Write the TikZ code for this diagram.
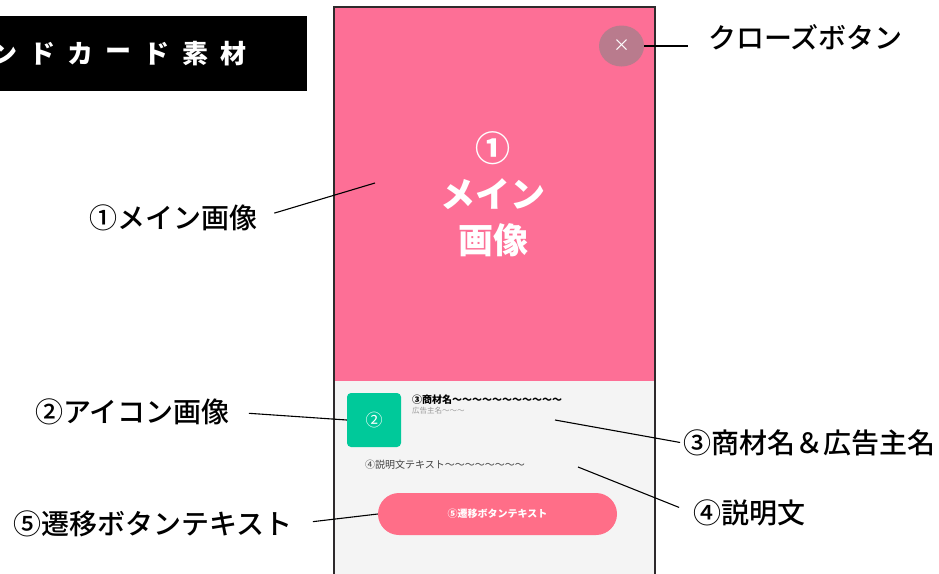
\documentclass[tikz,border=0pt]{standalone}
\usepackage{fontspec}
\setmainfont{Noto Sans CJK JP}
\newfontfamily\medfont{Noto Sans CJK JP Medium}
\usetikzlibrary{shapes.geometric}
\definecolor{imgpink}{HTML}{FD6F96}
\definecolor{closegray}{HTML}{B97B8D}
\definecolor{icongreen}{HTML}{00C99A}
\definecolor{btnpink}{HTML}{FF6E88}
\definecolor{cardgray}{HTML}{F4F4F4}
\definecolor{framegray}{HTML}{2E2A2C}
\begin{document}
\begin{tikzpicture}[x=1pt,y=-1pt,
    lbl/.style={font=\medfont\fontsize{28}{30}\selectfont,inner sep=0pt},
    lead/.style={draw=black,line width=1.1pt},
    small/.style={inner sep=0pt,anchor=west}
   ]
  \useasboundingbox (0,0) rectangle (939,573);
  \clip (0,0) rectangle (939,573);
  % title bar
  \fill[black] (0,16) rectangle (307,91);
  \foreach \ch [count=\i] in {ン,ド,カ,ー,ド,素,材}
    \node[text=white,font=\bfseries\fontsize{26}{26}\selectfont] (t\i) at ({4+38.2*(\i-1)},54) {\ch};
  % card
  \fill[imgpink] (334,7) rectangle (655,381);
  \fill[cardgray] (334,381) rectangle (655,590);
  \draw[framegray,line width=1.4pt] (334,590) -- (334,7) -- (655,7) -- (655,590);
  \node[ellipse,fill=closegray,minimum width=45pt,minimum height=41pt,inner sep=0pt,
        text=white,font=\fontsize{17}{17}\selectfont] (close) at (621.5,46) {×};
  \node[text=white,align=center,font=\bfseries\fontsize{35}{46}\selectfont] (main) at (493,194) {①\\メイン\\画像};
  \node[fill=icongreen,rounded corners=4pt,minimum size=54pt,inner sep=0pt,
        text=white,font=\fontsize{17}{17}\selectfont] (icon) at (374,420) {②};
  \node[small,font=\bfseries\fontsize{10}{10}\selectfont] (name) at (412,400) {③商材名〜〜〜〜〜〜〜〜〜〜〜};
  \node[small,text=gray!80,font=\fontsize{7.5}{7.5}\selectfont] (adv) at (412,411) {広告主名〜〜〜};
  \node[small,text=black!75,font=\fontsize{10}{10}\selectfont] (desc) at (365,465) {④説明文テキスト〜〜〜〜〜〜〜〜};
  \node[fill=btnpink,rounded corners=21pt,minimum width=239pt,minimum height=42pt,inner sep=0pt,
        text=white,font=\bfseries\fontsize{10}{10}\selectfont] (btn) at (497.5,514) {⑤遷移ボタンテキスト};
  % labels
  \node[lbl,anchor=east] (l1) at (258,218) {①メイン画像};
  \node[lbl,anchor=east] (l2) at (230,412) {②アイコン画像};
  \node[lbl,anchor=east] (l5) at (293,524) {⑤遷移ボタンテキスト};
  \node[lbl,anchor=west] (lc) at (708,37) {クローズボタン};
  \node[lbl,anchor=west] (l3) at (683,443) {③商材名＆広告主名};
  \node[lbl,anchor=west] (l4) at (693,513) {④説明文};
  \coordinate (q1) at (375,183);
  \coordinate (qc) at (688,46);
  \coordinate (q3) at (555,420);
  \coordinate (q4) at (578,467);
  \draw[lead,shorten <=17pt] (l1.east) -- (q1);
  \draw[lead,shorten <=19pt] (l2.east) -- (icon.west);
  \draw[lead,shorten <=20pt] (l5.east) -- (btn.west);
  \draw[lead] (close.east) -- (qc);
  \draw[lead,shorten >=3pt] (q3) -- (l3.west);
  \draw[lead,shorten >=15pt] (q4) -- (l4.west);
\end{tikzpicture}
\end{document}
